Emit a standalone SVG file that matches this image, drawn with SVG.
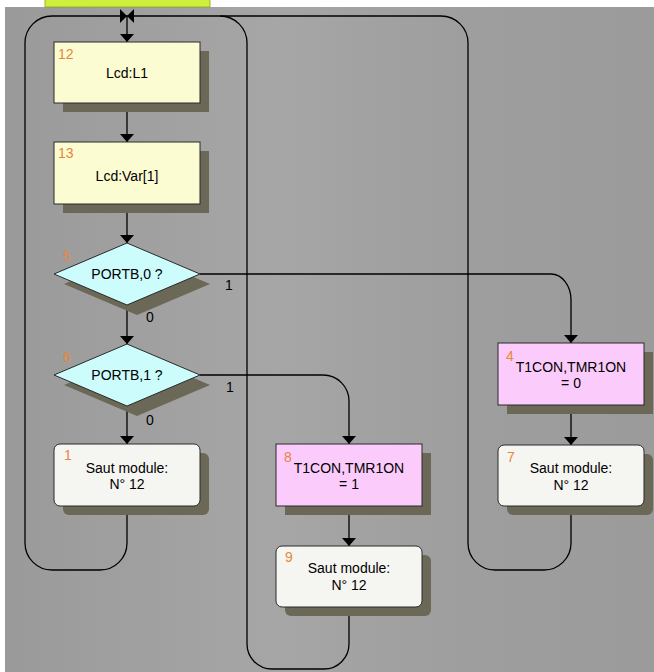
<svg xmlns="http://www.w3.org/2000/svg" width="654" height="672" viewBox="0 0 654 672">
<defs>
<linearGradient id="bg" x1="0" y1="0" x2="1" y2="0">
<stop offset="0" stop-color="#9a9a9a"/>
<stop offset="0.42" stop-color="#a6a6a6"/>
<stop offset="0.7" stop-color="#9e9e9e"/>
<stop offset="1" stop-color="#9b9b9b"/>
</linearGradient>
<marker id="arr" markerUnits="userSpaceOnUse" markerWidth="10" markerHeight="16" refX="8" refY="7" orient="auto">
<path d="M0,0 L8,7 L0,14 z" fill="#000"/>
</marker>
<style>
.ln{fill:none;stroke:#000;stroke-width:1.3}
.sh{fill:#6b6858}
.bd{stroke:#2a2a2a;stroke-width:1}
.yl{fill:#fcfcd2}
.cy{fill:#ccfcfc}
.pk{fill:#fbcbfb}
.wt{fill:#f5f5f1}
.t{font-family:"Liberation Sans",Arial,sans-serif;font-size:14px;fill:#000;text-anchor:middle}
.n{font-family:"Liberation Sans",Arial,sans-serif;font-size:14px;fill:#e8863a}
.b{font-family:"Liberation Sans",Arial,sans-serif;font-size:14px;fill:#000}
</style>
</defs>
<rect x="0" y="0" width="654" height="672" fill="#ffffff"/>
<rect x="5" y="7" width="649" height="665" fill="url(#bg)"/>
<rect x="45" y="-2" width="165" height="9" fill="#cdf03a" stroke="#8aa020" stroke-width="0.8"/>

<g id="connectors">
<path class="ln" d="M127,506 V543 A27,27 0 0 1 100,570 H52 A27,27 0 0 1 25,543 V43 A27,27 0 0 1 52,16 H127"/>
<path class="ln" d="M127,16 H441 A27,27 0 0 1 468,43 V543 A27,27 0 0 0 495,570 H544 A27,27 0 0 0 571,543 V506"/>
<path class="ln" d="M349,607 V644 A25,25 0 0 1 324,669 H272 A25,25 0 0 1 247,644 V43 A27,27 0 0 0 220,16"/>
<path class="ln" d="M200,274 H551 A20,26 0 0 1 571,300 V343" marker-end="url(#arr)"/>
<path class="ln" d="M200,375 H323 A26,26 0 0 1 349,401 V444" marker-end="url(#arr)"/>
<path class="ln" d="M127,16 V42" marker-end="url(#arr)"/>
<path class="ln" d="M127,103 V142" marker-end="url(#arr)"/>
<path class="ln" d="M127,204 V243" marker-end="url(#arr)"/>
<path class="ln" d="M127,305 V344" marker-end="url(#arr)"/>
<path class="ln" d="M127,406 V444" marker-end="url(#arr)"/>
<path class="ln" d="M571,405 V445" marker-end="url(#arr)"/>
<path class="ln" d="M349,506 V546" marker-end="url(#arr)"/>
<polygon points="120,9 127,16 120,23" fill="#000"/>
<polygon points="134,9 127,16 134,23" fill="#000"/>
<text class="b" x="225" y="290">1</text>
<text class="b" x="146" y="322">0</text>
<text class="b" x="226" y="392">1</text>
<text class="b" x="146" y="425">0</text>
</g>

<g id="node-12">
<rect class="sh" x="63" y="51" width="146" height="61"/>
<rect class="yl bd" x="54" y="42" width="146" height="61"/>
<text class="n" x="58" y="59">12</text>
<text class="t" x="127" y="78">Lcd:L1</text>
</g>

<g id="node-13">
<rect class="sh" x="63" y="151" width="146" height="62"/>
<rect class="yl bd" x="54" y="142" width="146" height="62"/>
<text class="n" x="58" y="158">13</text>
<text class="t" x="127" y="181">Lcd:Var[1]</text>
</g>

<g id="node-5">
<polygon class="sh" points="137,253 210,284 137,315 64,284"/>
<polygon class="cy bd" points="127,243 200,274 127,305 54,274"/>
<text class="n" x="63" y="261">5</text>
<text class="t" x="127" y="279">PORTB,0 ?</text>
</g>

<g id="node-6">
<polygon class="sh" points="137,354 210,385 137,416 64,385"/>
<polygon class="cy bd" points="127,344 200,375 127,406 54,375"/>
<text class="n" x="63" y="362">6</text>
<text class="t" x="127" y="380">PORTB,1 ?</text>
</g>

<g id="node-1">
<rect class="sh" x="63" y="453" width="146" height="62" rx="6"/>
<rect class="wt bd" x="54" y="444" width="146" height="62" rx="6"/>
<text class="n" x="64" y="460">1</text>
<text class="t" x="127" y="473">Saut module:</text>
<text class="t" x="127" y="489">N° 12</text>
</g>

<g id="node-8">
<rect class="sh" x="285" y="453" width="146" height="62"/>
<rect class="pk bd" x="276" y="444" width="146" height="62"/>
<text class="n" x="284" y="462">8</text>
<text class="t" x="349" y="473">T1CON,TMR1ON</text>
<text class="t" x="349" y="489">= 1</text>
</g>

<g id="node-9">
<rect class="sh" x="285" y="555" width="146" height="61" rx="6"/>
<rect class="wt bd" x="276" y="546" width="146" height="61" rx="6"/>
<text class="n" x="285" y="562">9</text>
<text class="t" x="349" y="573">Saut module:</text>
<text class="t" x="349" y="590">N° 12</text>
</g>

<g id="node-4">
<rect class="sh" x="507" y="352" width="146" height="62"/>
<rect class="pk bd" x="498" y="343" width="146" height="62"/>
<text class="n" x="506" y="361">4</text>
<text class="t" x="571" y="372">T1CON,TMR1ON</text>
<text class="t" x="571" y="388">= 0</text>
</g>

<g id="node-7">
<rect class="sh" x="507" y="454" width="146" height="61" rx="6"/>
<rect class="wt bd" x="498" y="445" width="146" height="61" rx="6"/>
<text class="n" x="507" y="462">7</text>
<text class="t" x="571" y="473">Saut module:</text>
<text class="t" x="571" y="490">N° 12</text>
</g>
</svg>
